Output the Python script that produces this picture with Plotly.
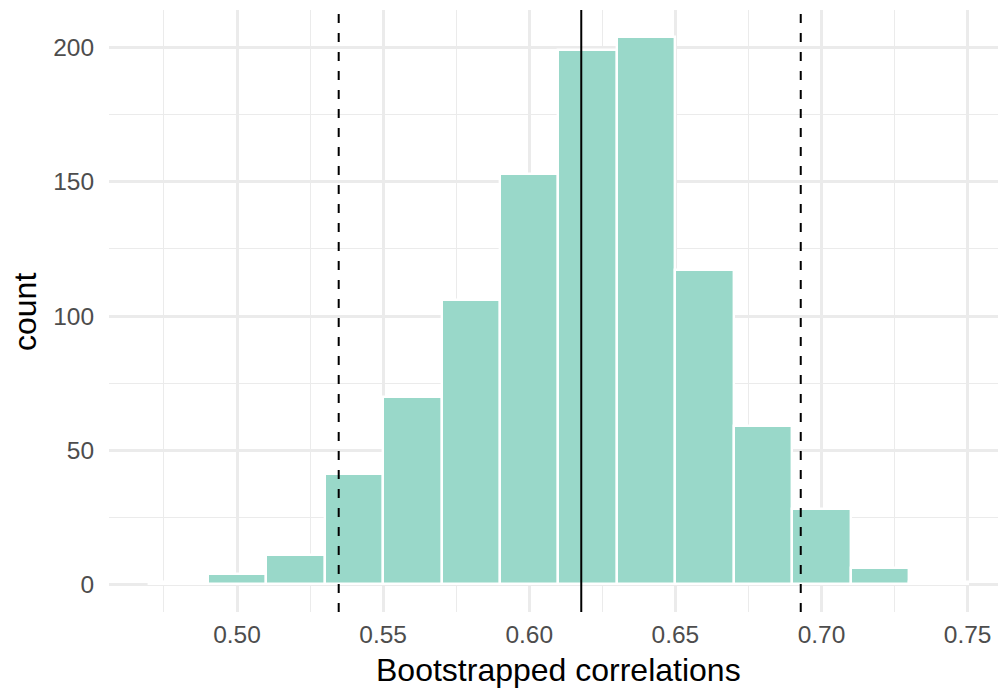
import plotly.graph_objects as go

# Histogram bins (left edges, width 0.02) and counts
bin_left = [0.47, 0.49, 0.51, 0.53, 0.55, 0.57, 0.59, 0.61, 0.63, 0.65, 0.67, 0.69, 0.71, 0.73]
counts = [1, 4, 11, 41, 70, 106, 153, 199, 204, 117, 59, 28, 6, 1]
bin_width = 0.02

# Reference lines
ci_lower = 0.5348
mean_r = 0.6178
ci_upper = 0.6929

x_ticks = [0.50, 0.55, 0.60, 0.65, 0.70, 0.75]
x_ticklabels = ["0.50", "0.55", "0.60", "0.65", "0.70", "0.75"]
y_ticks = [0, 50, 100, 150, 200]

centers = [b + bin_width / 2 for b in bin_left]

fig = go.Figure()
fig.add_trace(go.Bar(
    x=centers, y=counts, width=[bin_width] * len(counts),
    marker=dict(color="#99D8C9", line=dict(color="white", width=2.4)),
    hoverinfo="x+y", showlegend=False,
))

shapes = []
for xv, dash in [(ci_lower, "9px,10px"), (mean_r, "solid"), (ci_upper, "9px,10px")]:
    shapes.append(dict(type="line", xref="x", yref="paper", x0=xv, x1=xv, y0=0, y1=1,
                       line=dict(color="black", width=2, dash=dash), layer="above"))

font_family = "Liberation Sans, Arial, sans-serif"

fig.update_layout(
    width=998, height=691,
    margin=dict(l=109, r=0, t=10, b=79, autoexpand=False),
    paper_bgcolor="white", plot_bgcolor="white",
    shapes=shapes,
    bargap=0,
    font=dict(family=font_family, color="#4D4D4D"),
    xaxis=dict(
        range=[0.4562, 0.7604],
        tickvals=x_ticks, ticktext=x_ticklabels,
        showgrid=True, gridcolor="#EBEBEB", gridwidth=2.5,
        minor=dict(tickvals=[0.475, 0.525, 0.575, 0.625, 0.675, 0.725],
                   showgrid=True, gridcolor="#EBEBEB", gridwidth=1.4),
        zeroline=False, showline=False,
        ticks="outside", ticklen=1, tickcolor="rgba(0,0,0,0)",
        tickfont=dict(size=24.5, color="#4D4D4D", family=font_family),
    ),
    yaxis=dict(
        range=[-10.3, 214.05],
        tickvals=y_ticks,
        showgrid=True, gridcolor="#EBEBEB", gridwidth=2.5,
        minor=dict(tickvals=[25, 75, 125, 175],
                   showgrid=True, gridcolor="#EBEBEB", gridwidth=1.4),
        zeroline=False, showline=False,
        ticks="outside", ticklen=9, tickcolor="rgba(0,0,0,0)",
        tickfont=dict(size=24.5, color="#4D4D4D", family=font_family),
    ),
    annotations=[
        dict(text="Bootstrapped correlations", xref="paper", yref="paper",
             x=(558 - 109) / 889, y=0, yshift=-58, xanchor="center", yanchor="middle",
             showarrow=False, font=dict(size=32, color="black", family=font_family)),
        dict(text="count", xref="paper", yref="paper",
             x=0, xshift=-84, y=(612 - 312) / 602, xanchor="center", yanchor="middle",
             textangle=-90, showarrow=False,
             font=dict(size=32, color="black", family=font_family)),
    ],
)

fig.write_html("out.html", config={"displayModeBar": False},
               post_script="document.body.style.margin='0';document.body.style.overflow='hidden';")
